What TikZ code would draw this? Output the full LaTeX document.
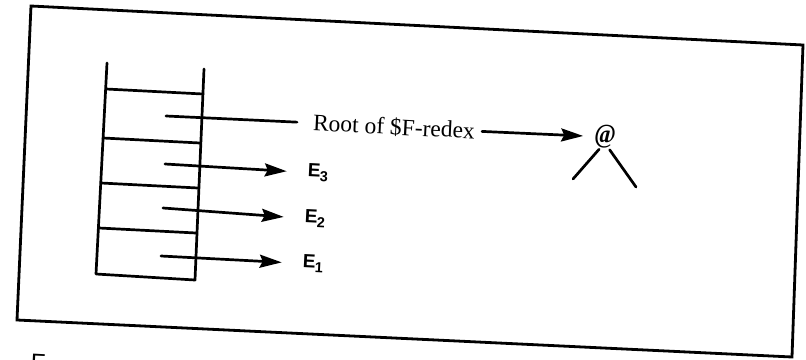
\documentclass[tikz,border=0pt]{standalone}
\usepackage{fontspec}
\setmainfont{Liberation Serif}
\newfontfamily\helv{Liberation Sans}
\usetikzlibrary{arrows.meta}
\newcommand{\esub}[1]{\textbf{E}\kern-0.5pt\raisebox{-4.5pt}{\fontsize{14.5}{15}\selectfont\bfseries #1}}
\begin{document}
\begin{tikzpicture}[x=1pt,y=-1pt,
  ln/.style={line width=2.7pt, line cap=round, line join=round},
  arr/.style={ln, -{Stealth[length=22pt,width=13pt,inset=3pt]}},
  elabel/.style={font=\helv\fontsize{19}{20}\selectfont, inner sep=0pt, rotate=-2.9},
  rootlabel/.style={font=\fontsize{23.5}{24}\selectfont, inner sep=0pt, rotate=-2.9},
  atlabel/.style={font=\bfseries\fontsize{27}{28}\selectfont, inner sep=0pt, rotate=-2.9, xscale=0.85}]
\useasboundingbox (0,0) rectangle (806,359);
% outer frame
\draw[line width=2.8pt, line join=miter] (31,6) -- (803,45) -- (792,357) -- (17,320) -- cycle;
% partial caption below the frame
\node[font=\helv\fontsize{24}{24}\selectfont, inner sep=0pt, anchor=north west, rotate=-2.9] (cap) at (31,354) {F};
% stack
\draw[ln] (107,63) -- (96,274) -- (195,280) -- (204,69);
\draw[ln] (106,89) -- (203,94);
\draw[ln] (103,138) -- (200,143);
\draw[ln] (101,183) -- (198,188);
\draw[ln] (99,228) -- (196,233);
% start points inside the cells
\coordinate (s0) at (166,116);
\coordinate (s3) at (165,164);
\coordinate (s2) at (163,208);
\coordinate (s1) at (161,256);
% labels
\node[rootlabel] (root) at (394,127) {Root of \$F-redex};
\node[elabel] (e3) at (318,173) {\esub{3}};
\node[elabel] (e2) at (315,219) {\esub{2}};
\node[elabel] (e1) at (313,264) {\esub{1}};
\node[atlabel] (at) at (605,137) {@};
\coordinate (tl) at (573,179);
\coordinate (tr) at (636,187);
% connectors
\draw[ln, shorten >=16pt] (s0) -- (root.west);
\draw[arr, shorten <=7pt, shorten >=11pt] (root.east) -- (at.west);
\draw[arr, shorten >=21pt] (s3) -- (e3.west);
\draw[arr, shorten >=21pt] (s2) -- (e2.west);
\draw[arr, shorten >=21pt] (s1) -- (e1.west);
\draw[ln, shorten <=1pt] (at.245) -- (tl);
\draw[ln, shorten <=1pt] (at.295) -- (tr);
\end{tikzpicture}
\end{document}
